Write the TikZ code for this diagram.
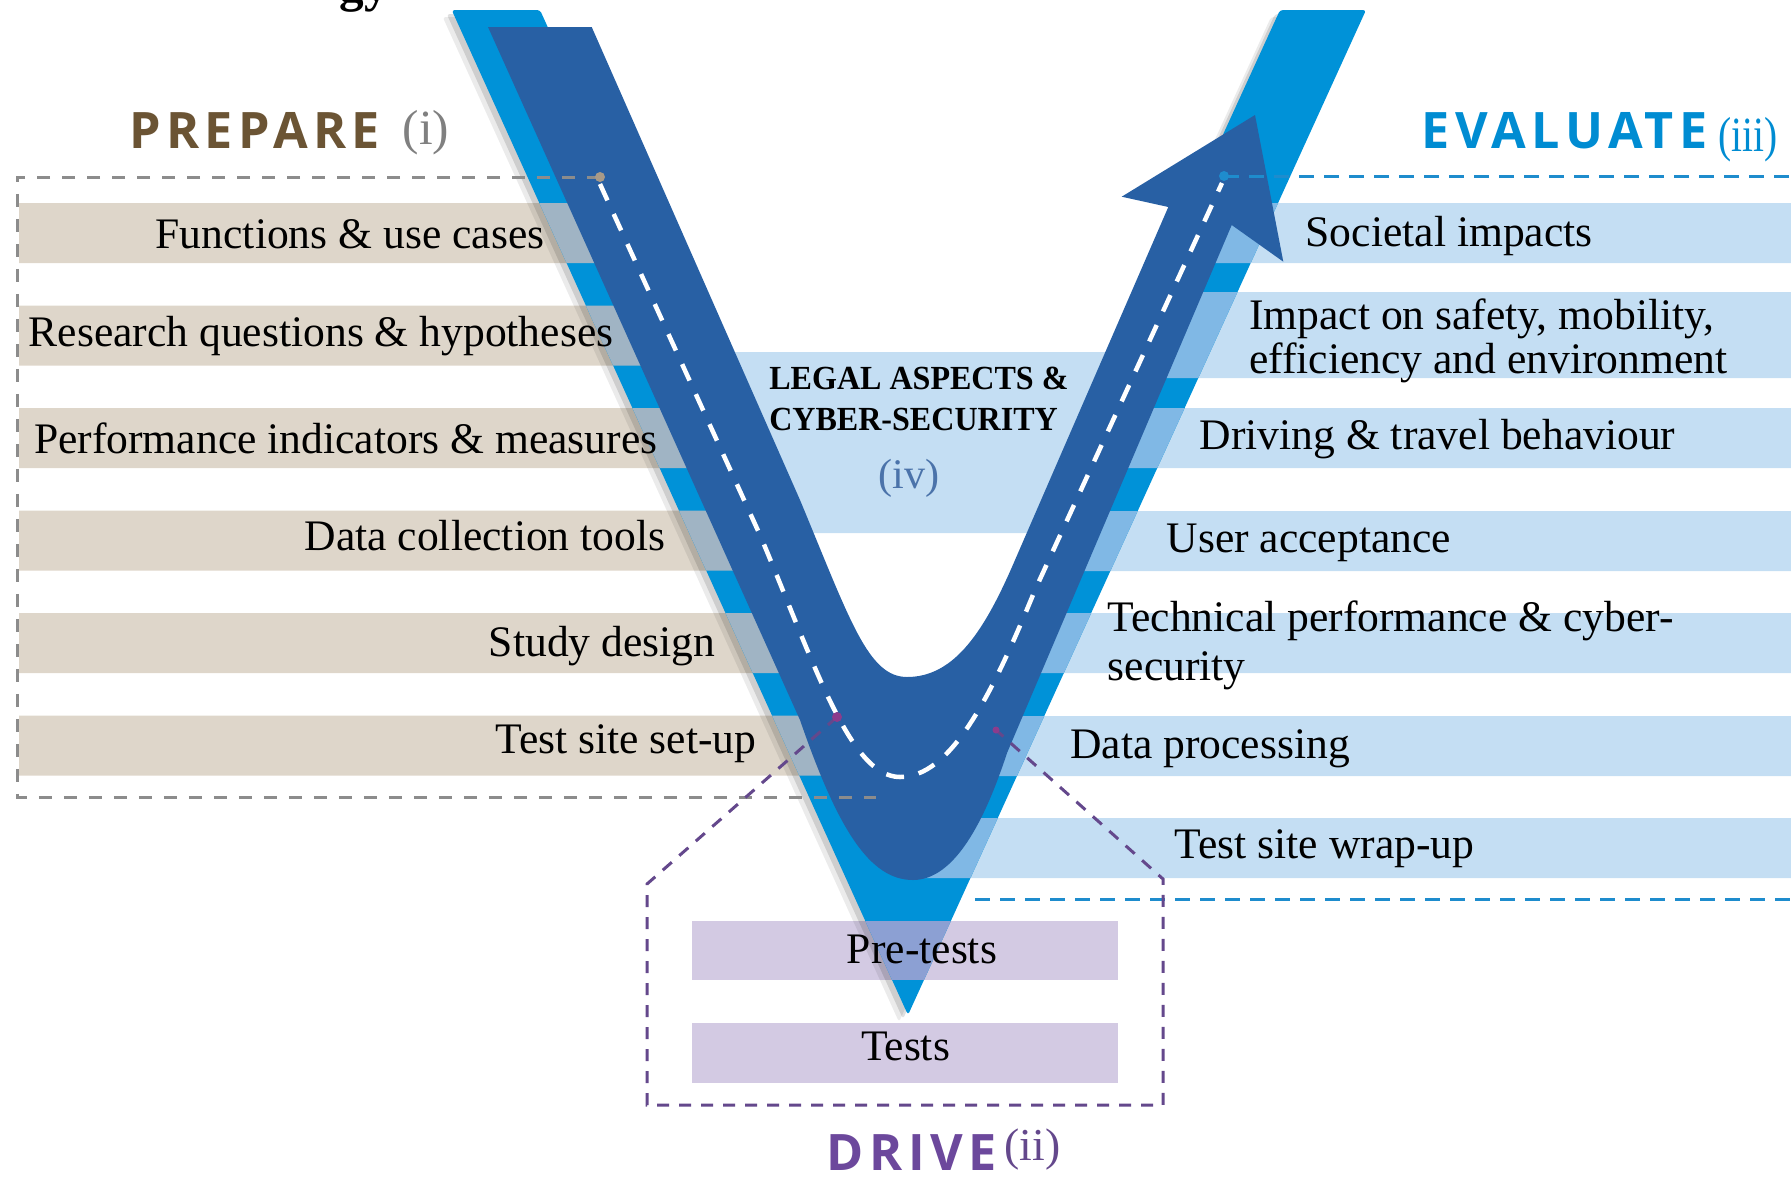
\documentclass[tikz,border=0pt]{standalone}
\usepackage{fontspec}
\setmainfont{Liberation Serif}
\newfontfamily\titlefont[LetterSpace=11]{Open Sans}
\definecolor{vblue}{RGB}{0,146,216}
\definecolor{road}{RGB}{40,96,164}
\definecolor{beige}{RGB}{222,214,202}
\definecolor{beigeblend}{RGB}{160,180,196}
\definecolor{ltblue}{RGB}{196,222,243}
\definecolor{ltblend}{RGB}{128,184,229}
\definecolor{lav}{RGB}{211,202,227}
\definecolor{lavblend}{RGB}{140,160,211}
\definecolor{prepbrown}{RGB}{107,84,52}
\definecolor{evalblue}{RGB}{0,140,210}
\definecolor{drivepurple}{RGB}{108,72,156}
\definecolor{grayline}{RGB}{140,140,140}
\definecolor{blueline}{RGB}{30,140,205}
\definecolor{purpline}{RGB}{100,72,140}
\definecolor{ivblue}{RGB}{75,115,170}
\definecolor{parengray}{RGB}{128,128,128}
\definecolor{dotgray}{RGB}{168,154,136}
\definecolor{dotpurple}{RGB}{140,60,140}
\begin{document}
\begin{tikzpicture}[x=0.1mm,y=-0.1mm,
  vshape/.style={rounded corners=0.3mm,
    insert path={(451.7,10) -- (540,10) -- (908,823) -- (1280,10) -- (1366,10) -- (908,1015) -- cycle}},
  bartext/.style={inner sep=0pt, text=black, font=\fontsize{12.4}{11.4}\selectfont},
  bartexttwo/.style={inner sep=0pt, text=black, align=left, font=\fontsize{12.4}{13.7}\selectfont},
  titletext/.style={inner sep=0pt, anchor=base west, font={\titlefont\bfseries\fontsize{14.3}{14}\selectfont}},
  parentext/.style={inner sep=0pt, anchor=base west, font=\fontsize{14}{14}\selectfont},
  graydash/.style={draw=grayline, line width=0.3mm, dash pattern=on 1.3mm off 1.2mm},
  bluedash/.style={draw=blueline, line width=0.3mm, dash pattern=on 1.5mm off 1.0mm},
  purpdash/.style={draw=purpline, line width=0.3mm, dash pattern=on 1.2mm off 1.0mm},
  centerdash/.style={draw=white, line width=0.45mm, dash pattern=on 1.8mm off 1.5mm},
  dotmark/.style={circle, inner sep=0pt, minimum size=1.0mm},
  leftbar1/.style={insert path={(19,203) -- (624.2,203) -- (651.2,263) -- (19,263) -- cycle}},
  leftbar2/.style={insert path={(19,305.5) -- (670.3,305.5) -- (697.3,365.5) -- (19,365.5) -- cycle}},
  leftbar3/.style={insert path={(19,408) -- (716.5,408) -- (743.5,468) -- (19,468) -- cycle}},
  leftbar4/.style={insert path={(19,510.5) -- (762.6,510.5) -- (789.6,570.5) -- (19,570.5) -- cycle}},
  leftbar5/.style={insert path={(19,613) -- (808.7,613) -- (835.7,673) -- (19,673) -- cycle}},
  leftbar6/.style={insert path={(19,715.5) -- (854.8,715.5) -- (881.8,775.5) -- (19,775.5) -- cycle}},
  rightbar1/.style={insert path={(1209.4,203) -- (1791,203) -- (1791,263) -- (1183.9,263) -- cycle}},
  rightbar2/.style={insert path={(1171.5,292) -- (1791,292) -- (1791,378) -- (1135,378) -- cycle}},
  rightbar3/.style={insert path={(1122.2,408) -- (1791,408) -- (1791,468) -- (1096.7,468) -- cycle}},
  rightbar4/.style={insert path={(1078.5,511) -- (1791,511) -- (1791,571) -- (1053,571) -- cycle}},
  rightbar5/.style={insert path={(1035.1,613) -- (1791,613) -- (1791,673) -- (1009.6,673) -- cycle}},
  rightbar6/.style={insert path={(991.3,716) -- (1791,716) -- (1791,776) -- (965.8,776) -- cycle}},
  rightbar7/.style={insert path={(948,818) -- (1791,818) -- (1791,878) -- (922.5,878) -- cycle}},
  pretestbar/.style={insert path={(692,921) rectangle (1118,980)}},
  testbar/.style={insert path={(692,1023) rectangle (1118,1083)}}
]
\useasboundingbox (0,0) rectangle (1791,1182);

% cut-off title above the picture
\node[inner sep=0pt, anchor=base west, font=\bfseries\fontsize{14}{14}\selectfont] (ttl) at (339,1) {gy};

% bars
\foreach \b in {leftbar1,leftbar2,leftbar3,leftbar4,leftbar5,leftbar6}{\fill[beige,\b];}
\foreach \b in {rightbar1,rightbar2,rightbar3,rightbar4,rightbar5,rightbar6,rightbar7}{\fill[ltblue,\b];}
\fill[ltblue] (690,352) -- (1140,352) -- (1060,533) -- (770,533) -- cycle;
\fill[lav,pretestbar];
\fill[lav,testbar];

% shadow of the V
\fill[black,opacity=0.08,shift={(-9,7)},vshape];
\fill[black,opacity=0.12,shift={(-5,4)},vshape];

% light blue V
\fill[vblue,vshape];
\begin{scope}
  \clip[vshape];
  \foreach \b in {leftbar1,leftbar2,leftbar3,leftbar4,leftbar5,leftbar6}{\fill[beigeblend,\b];}
  \foreach \b in {rightbar1,rightbar2,rightbar3,rightbar4,rightbar5,rightbar6,rightbar7}{\fill[ltblend,\b];}
  \fill[lavblend,pretestbar];
\end{scope}

% dark road with arrow head
\fill[road] (488,27) -- (591.7,27) -- (800,500)
  .. controls (850,620) and (868,677) .. (907,677)
  .. controls (955,677) and (985,630) .. (1015,560)
  -- (1168.3,207) -- (1121.7,196.7) -- (1255,115) -- (1283.3,261.7) -- (1231.7,225)
  -- (1007,753) .. controls (985,820) and (955,880) .. (913,880)
  .. controls (870,880) and (838,830) .. (800,720) -- cycle;

% dots
\coordinate (pstart) at (600,177);
\coordinate (eend) at (1224,176);
\coordinate (dl) at (837,717);
\coordinate (dr) at (996,730);

% centre line of the road
\draw[centerdash] (600,184) -- (760,535)
  .. controls (815,665) and (850,777) .. (900,777)
  .. controls (950,777) and (990,700) .. (1035,590) -- (1222,183);

% dashed frames
\draw[graydash] (pstart) -- (17,177) -- (17,797) -- (876,797);
\draw[bluedash] (eend) -- (1791,176);
\draw[bluedash] (975,899) -- (1791,899);
\draw[purpdash] (dl) -- (647,884) -- (647,1105) -- (1163,1105) -- (1163,879) -- (dr);

\node[dotmark, fill=dotgray] (dotp) at (pstart) {};
\node[dotmark, fill=blueline] (dote) at (eend) {};
\node[dotmark, fill=dotpurple] (dotdl) at (dl) {};
\node[dotmark, fill=dotpurple, minimum size=0.7mm] (dotdr) at (dr) {};

% headings
\node[titletext, text=prepbrown] (prep) at (128.3,148.3) {PREPARE};
\node[parentext, text=parengray] (prepn) at (402,144) {(i)};
\node[titletext, text=evalblue] (eval) at (1421,148.3) {EVALUATE};
\node[parentext, text=evalblue] (evaln) at (1718,151) {\scalebox{0.8}[1]{(iii)}};
\node[titletext, text=drivepurple] (drive) at (826,1170) {DRIVE};
\node[parentext, text=purpline, font=\fontsize{13}{13}\selectfont] (driven) at (1004,1160) {(ii)};

% left labels
\node[bartext, anchor=base east] (l1) at (545,248) {Functions \& use cases};
\node[bartext, anchor=base east] (l2) at (614,346.7) {Research questions \& hypotheses};
\node[bartext, anchor=base east] (l3) at (658,453.3) {Performance indicators \& measures};
\node[bartext, anchor=base east] (l4) at (666,550) {Data collection tools};
\node[bartext, anchor=base east] (l5) at (716,656.7) {Study design};
\node[bartext, anchor=base east] (l6) at (757,753.3) {Test site set-up};

% right labels
\node[bartext, anchor=base west] (r1) at (1305,246.7) {Societal impacts};
\node[bartext, anchor=base west, align=left] (r2) at (1248.5,373) {Impact on safety, mobility,\\efficiency and environment};
\node[bartext, anchor=base west] (r3) at (1199,449) {Driving \& travel behaviour};
\node[bartext, anchor=base west] (r4) at (1166,552) {User acceptance};
\node[bartexttwo, anchor=base west] (r5) at (1107,680) {Technical performance \& cyber-\\security};
\node[bartext, anchor=base west] (r6) at (1069.6,758) {Data processing};
\node[bartext, anchor=base west] (r7) at (1174,858) {Test site wrap-up};

% drive labels
\node[bartext, anchor=base] (pre) at (922,963) {Pre-tests};
\node[bartext, anchor=base] (tst) at (905.5,1060) {Tests};

% legal aspects
\node[inner sep=0pt, anchor=base west, align=left, font=\bfseries\fontsize{9.6}{11.6}\selectfont] (legal) at (768.6,430.7) {\scalebox{0.95}[1]{LEGAL ASPECTS \&}\\\scalebox{0.95}[1]{CYBER-SECURITY}};
\node[parentext, text=ivblue, font=\fontsize{12}{12}\selectfont] (legaln) at (878,488) {(iv)};
\end{tikzpicture}
\end{document}
